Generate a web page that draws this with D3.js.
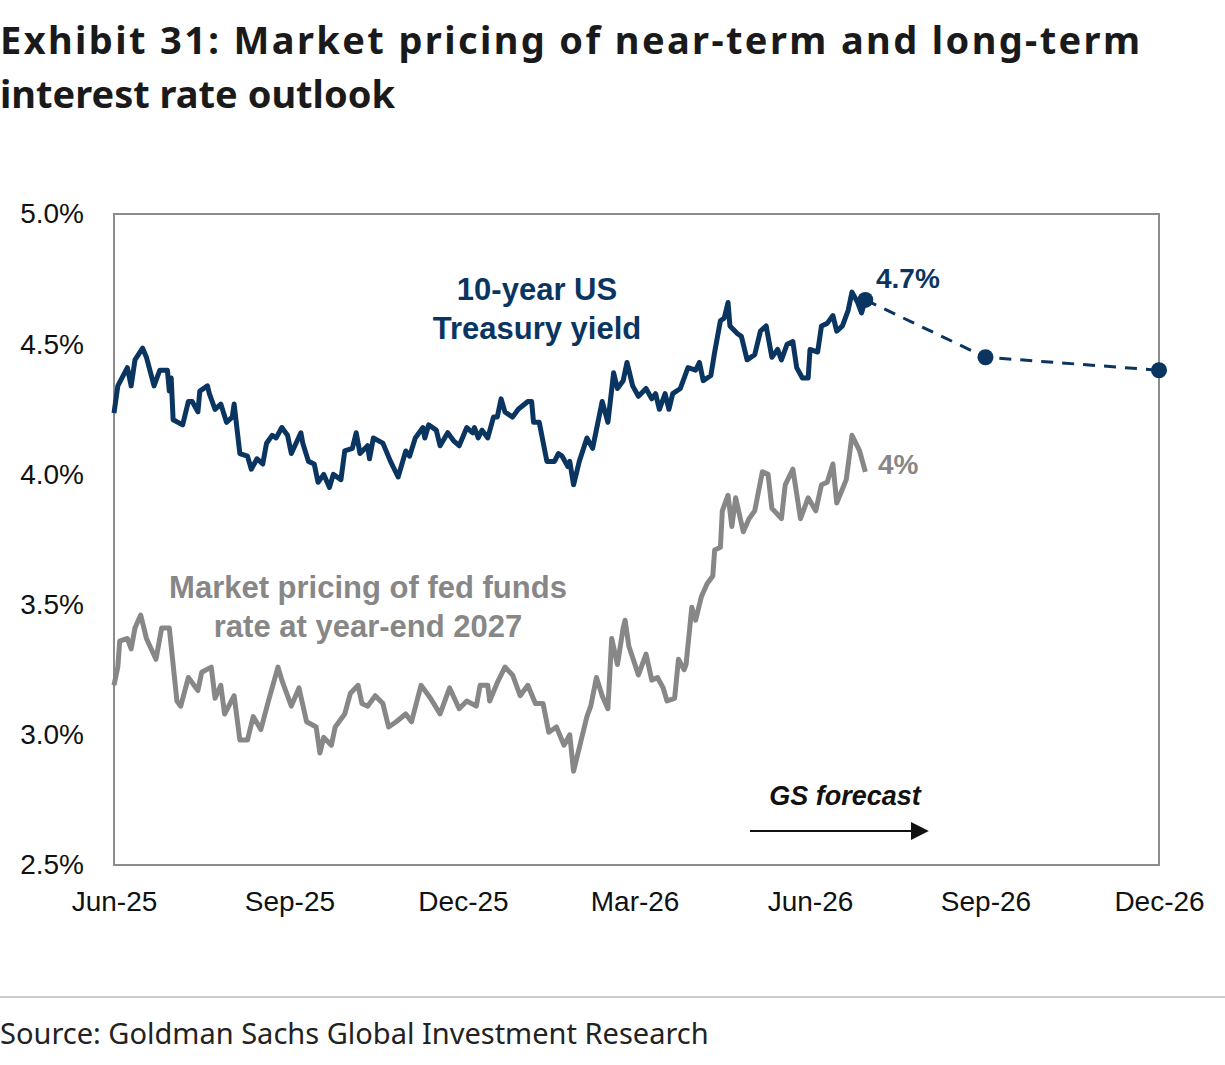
<!DOCTYPE html>
<html><head><meta charset="utf-8">
<script src="https://cdn.jsdelivr.net/npm/d3@7"></script>
<style>body{margin:0;background:#fff}</style>
</head><body>
<svg id="c" width="1225" height="1065"></svg>
<script>
const startDate = "2025-06-01";
const tenYearDays = [0,2,7,9,11,15,17,21,24,28,29,30,31,36,39,41,44,45,49,50,53,56,59,62,63,66,70,72,75,78,80,83,85,88,91,93,98,99,102,105,107,110,113,115,119,121,125,127,129,133,134,136,141,145,149,153,155,158,162,163,165,169,171,175,178,181,185,188,189,191,193,196,199,201,203,205,209,212,217,219,220,223,227,231,233,235,238,239,241,244,248,251,256,259,262,264,267,269,272,275,279,282,284,286,289,291,293,297,301,305,307,309,313,315,318,320,322,323,327,329,332,336,339,342,345,348,350,353,356,358,361,364,365,369,371,374,377,379,382,385,387,390,392,394];
const tenYear = [4.235,4.34,4.41,4.34,4.44,4.485,4.45,4.34,4.40,4.40,4.32,4.37,4.21,4.19,4.28,4.28,4.24,4.32,4.34,4.31,4.25,4.27,4.20,4.22,4.27,4.08,4.07,4.02,4.06,4.04,4.12,4.15,4.14,4.18,4.15,4.08,4.16,4.12,4.05,4.04,3.97,4.00,3.95,4.00,3.98,4.09,4.10,4.16,4.08,4.11,4.06,4.14,4.12,4.05,3.99,4.09,4.07,4.14,4.18,4.14,4.19,4.17,4.11,4.16,4.13,4.11,4.18,4.16,4.18,4.14,4.17,4.14,4.22,4.22,4.29,4.24,4.22,4.25,4.28,4.28,4.20,4.20,4.05,4.05,4.08,4.07,4.03,4.05,3.96,4.05,4.14,4.10,4.28,4.20,4.39,4.33,4.36,4.43,4.34,4.30,4.33,4.29,4.31,4.25,4.31,4.25,4.31,4.33,4.41,4.40,4.43,4.36,4.38,4.47,4.59,4.60,4.66,4.57,4.54,4.53,4.44,4.46,4.55,4.57,4.45,4.48,4.44,4.50,4.51,4.41,4.37,4.37,4.48,4.47,4.57,4.58,4.61,4.55,4.57,4.63,4.70,4.66,4.62,4.67];
const fedDays = [0,2,3,7,9,11,14,17,22,25,29,33,35,39,44,46,51,53,56,58,63,66,70,73,77,81,86,88,93,97,101,106,108,110,114,116,121,124,128,130,133,137,141,144,148,153,156,161,166,171,176,181,185,190,192,196,197,201,205,209,213,217,221,225,228,232,236,239,241,245,248,250,253,256,259,261,264,267,268,270,275,279,282,285,288,290,294,296,299,300,303,305,308,311,314,315,318,319,322,324,326,330,333,336,340,343,345,350,352,356,360,364,368,371,374,377,379,384,387,391,394];
const fedFunds = [3.19,3.26,3.36,3.37,3.33,3.41,3.46,3.37,3.29,3.41,3.41,3.13,3.11,3.22,3.17,3.24,3.26,3.14,3.19,3.08,3.15,2.98,2.98,3.07,3.02,3.13,3.26,3.21,3.11,3.18,3.05,3.03,2.93,2.99,2.96,3.03,3.08,3.16,3.19,3.12,3.11,3.15,3.12,3.03,3.05,3.08,3.05,3.19,3.14,3.08,3.18,3.10,3.13,3.11,3.19,3.19,3.13,3.20,3.26,3.23,3.15,3.19,3.12,3.12,3.01,3.03,2.96,3.00,2.86,2.98,3.07,3.11,3.22,3.15,3.10,3.37,3.27,3.41,3.44,3.34,3.23,3.31,3.21,3.22,3.18,3.13,3.14,3.29,3.25,3.27,3.49,3.44,3.53,3.58,3.61,3.71,3.72,3.86,3.92,3.80,3.91,3.78,3.83,3.86,4.01,4.00,3.87,3.83,3.96,4.02,3.83,3.91,3.86,3.96,3.97,4.04,3.89,3.98,4.15,4.09,4.01];
const forecastDates = ["2026-09-01","2026-12-01"];
const forecastValues = [4.45,4.40];
const xTickDates = ["2025-06-01","2025-09-01","2025-12-01","2026-03-01","2026-06-01","2026-09-01","2026-12-01"];
const xTickLabels = ["Jun-25","Sep-25","Dec-25","Mar-26","Jun-26","Sep-26","Dec-26"];
const yTicks = [2.5,3.0,3.5,4.0,4.5,5.0];

const NAVY="#0b3561", GRAY="#878787";
const svg=d3.select("#c");
const parse=d3.timeParse("%Y-%m-%d");
const t0=parse(startDate);
const L=114,R=1159,T=214,B=865;
const x=d3.scaleTime().domain([parse(xTickDates[0]),parse(xTickDates[6])]).range([L,R]);
const y=d3.scaleLinear().domain([2.5,5.0]).range([B,T]);
const ten=tenYearDays.map((d,i)=>({d:d3.timeDay.offset(t0,d),v:tenYear[i]}));
const fed=fedDays.map((d,i)=>({d:d3.timeDay.offset(t0,d),v:fedFunds[i]}));
const fc=[ten[ten.length-1]].concat(forecastDates.map((d,i)=>({d:parse(d),v:forecastValues[i]})));
const font="'Liberation Sans', Arial, sans-serif";

svg.append("text").attr("x",0).attr("y",54).attr("font-family","'Noto Sans', sans-serif").attr("font-weight",700).attr("font-size",38).attr("fill","#1a1a1a").attr("textLength",1140).text("Exhibit 31: Market pricing of near-term and long-term");
svg.append("text").attr("x",0).attr("y",108).attr("font-family","'Noto Sans', sans-serif").attr("font-weight",700).attr("font-size",38).attr("fill","#1a1a1a").text("interest rate outlook");

svg.append("rect").attr("x",L).attr("y",T).attr("width",R-L).attr("height",B-T).attr("fill","none").attr("stroke","#8c8c8c").attr("stroke-width",2);

const ya=svg.append("g").attr("transform",`translate(${L},0)`).call(d3.axisLeft(y).tickValues(yTicks).tickSize(0).tickPadding(30).tickFormat(d=>d.toFixed(1)+"%"));
ya.select(".domain").remove();
ya.selectAll("text").attr("font-family",font).attr("font-size",28).attr("fill","#111");
const xa=svg.append("g").attr("transform",`translate(0,${B})`).call(d3.axisBottom(x).tickValues(xTickDates.map(parse)).tickSize(0).tickPadding(26).tickFormat((d,i)=>xTickLabels[i]));
xa.select(".domain").remove();
xa.selectAll("text").attr("font-family",font).attr("font-size",28).attr("fill","#111");

const line=d3.line().x(d=>x(d.d)).y(d=>y(d.v));
svg.append("path").datum(fed).attr("d",line).attr("fill","none").attr("stroke",GRAY).attr("stroke-width",5).attr("stroke-linejoin","round");
svg.append("path").datum(ten).attr("d",line).attr("fill","none").attr("stroke",NAVY).attr("stroke-width",5).attr("stroke-linejoin","round");
svg.append("path").datum(fc).attr("d",line).attr("fill","none").attr("stroke",NAVY).attr("stroke-width",3).attr("stroke-dasharray","12,9");
svg.selectAll("circle.f").data(fc).enter().append("circle").attr("cx",d=>x(d.d)).attr("cy",d=>y(d.v)).attr("r",8).attr("fill",NAVY);

function lbl(tx,ty,s,c,size,anchor,style){svg.append("text").attr("x",tx).attr("y",ty).attr("text-anchor",anchor||"middle").attr("font-family",font).attr("font-weight",700).attr("font-style",style||"normal").attr("font-size",size).attr("fill",c).text(s);}
lbl(537,300,"10-year US",NAVY,31);
lbl(537,339,"Treasury yield",NAVY,31);
lbl(368,598,"Market pricing of fed funds",GRAY,31);
lbl(368,637,"rate at year-end 2027",GRAY,31);
lbl(876,288,"4.7%",NAVY,28,"start");
lbl(878,474,"4%",GRAY,28,"start");
lbl(845,805,"GS forecast","#111",27,"middle","italic");
svg.append("defs").append("marker").attr("id","ah").attr("viewBox","0 0 10 10").attr("refX",9).attr("refY",5).attr("markerWidth",7).attr("markerHeight",7).attr("markerUnits","userSpaceOnUse").append("path").attr("d","M0,0L10,5L0,10Z").attr("fill","#111");
svg.select("#ah").attr("markerWidth",18).attr("markerHeight",18);
svg.append("line").attr("x1",750).attr("x2",927).attr("y1",831).attr("y2",831).attr("stroke","#111").attr("stroke-width",2).attr("marker-end","url(#ah)");

svg.append("line").attr("x1",0).attr("x2",1225).attr("y1",997).attr("y2",997).attr("stroke","#bbb").attr("stroke-width",1.5);
svg.append("text").attr("x",0).attr("y",1044).attr("font-family","'Noto Sans', sans-serif").attr("font-size",29).attr("fill","#222").text("Source: Goldman Sachs Global Investment Research");
</script>
</body></html>
